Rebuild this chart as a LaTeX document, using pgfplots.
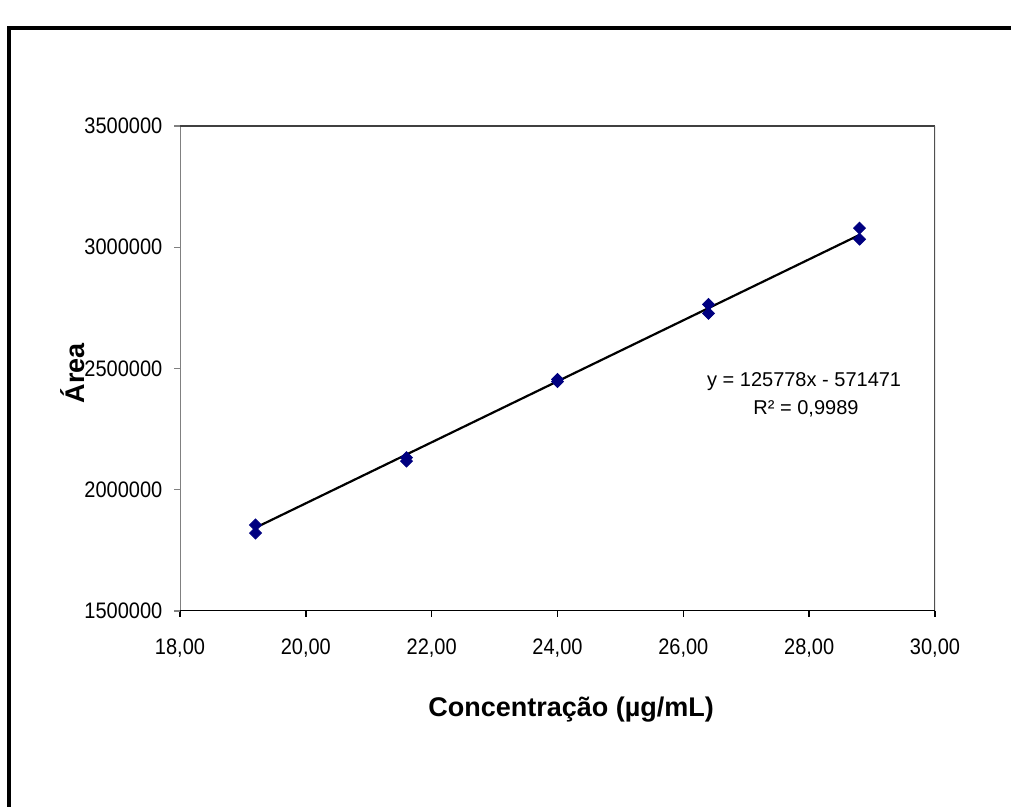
\documentclass[border=0pt]{standalone}
\usepackage{pgfplots}
\pgfplotsset{compat=1.18}
\usepackage{fontspec}
\setmainfont{Liberation Sans}

\definecolor{markblue}{RGB}{0,0,128}
\definecolor{lineleft}{RGB}{128,128,128}
\definecolor{linetop}{RGB}{64,64,64}
\definecolor{lineright}{RGB}{80,80,80}

% replicate injections at each concentration level
\pgfplotstableread{
conc   area
19.2   1854600
19.2   1821600
21.6   2132000
21.6   2118000
24.0   2455000
24.0   2446000
26.4   2764500
26.4   2727300
28.8   3078500
28.8   3033000
}\areadata

\begin{document}
\begin{tikzpicture}
\useasboundingbox (0pt,0pt) rectangle (505.5pt,403.5pt);
\clip (0pt,0pt) rectangle (505.5pt,403.5pt);
% chart area border
\draw[line width=2pt] (4.4pt,-20pt) -- (4.4pt,389.6pt) -- (540pt,389.6pt);
\begin{axis}[
  at={(90pt,98pt)}, anchor=south west,
  scale only axis, width=377.5pt, height=242.5pt,
  xmin=18, xmax=30, ymin=1500000, ymax=3500000,
  xtick={18,20,22,24,26,28,30},
  ytick={1500000,2000000,2500000,3000000,3500000},
  scaled y ticks=false,
  xtick pos=left, ytick pos=left,
  tick align=outside, major tick length=2.8pt,
  x tick style={black, line width=0.8pt},
  y tick style={lineleft, line width=0.6pt},
  axis line style={draw=none},
  separate axis lines,
  /pgf/number format/assume math mode=true,
  xticklabel={\pgfmathprintnumber[fixed, fixed zerofill, precision=2, use comma]{\tick}},
  yticklabel={\pgfmathprintnumber[fixed, precision=0, 1000 sep={}]{\tick}},
  tick label style={font=\fontsize{10}{12}\selectfont, yscale=1.12},
  xticklabel style={yshift=-6.4pt},
  yticklabel style={xshift=-2.5pt},
  xlabel={Concentração (µg/mL)},
  ylabel={Área},
  label style={font=\fontsize{13.5}{16}\selectfont\bfseries},
  xlabel style={at={(rel axis cs:0.518,0)}, anchor=center, yshift=-49.5pt},
  ylabel style={at={(rel axis cs:0,0.49)}, anchor=center, yshift=53.5pt},
]
\draw[lineleft, line width=0.7pt] (rel axis cs:0,0) -- (rel axis cs:0,1);
\draw[linetop, line width=0.8pt] (rel axis cs:0,1) -- (rel axis cs:1,1);
\draw[lineright, line width=0.7pt] (rel axis cs:1,1) -- (rel axis cs:1,0);

% linear trendline over the data range: y = 125778x - 571471
\addplot[black, line width=1.1pt] coordinates {(19.2,1843466.6) (28.8,3050935.4)};

\addplot[only marks, mark=square*, mark size=2.1pt,
  mark options={rotate=45, fill=markblue, draw=markblue}]
  table[x=conc, y=area] {\areadata};

\draw[black, line width=1pt] (rel axis cs:0,0) -- (rel axis cs:1,0);

\node[font=\fontsize{10}{12}\selectfont] at (axis cs:27.92,2444000) {y = 125778x - 571471};
\node[font=\fontsize{10}{12}\selectfont] at (axis cs:27.95,2333000) {R² = 0,9989};
\end{axis}
\end{tikzpicture}
\end{document}
